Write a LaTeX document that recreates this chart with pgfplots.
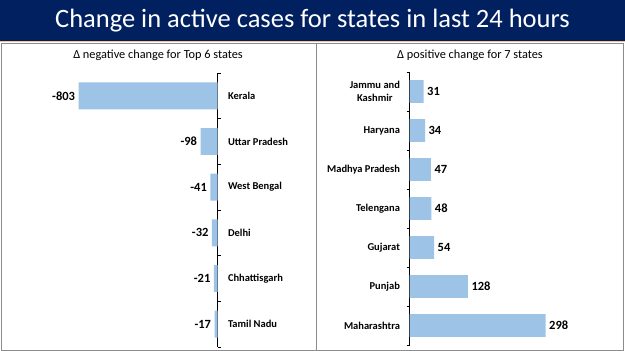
\documentclass[border=0pt]{standalone}
\usepackage{pgfplots}
\pgfplotsset{compat=1.18}
\usepackage{fontspec}
\setmainfont{Carlito}
\definecolor{navy}{HTML}{002060}
\definecolor{barblue}{HTML}{9DC3E6}
\definecolor{framegray}{HTML}{8C8C8C}
\begin{document}
\begin{tikzpicture}
\path[use as bounding box] (0,0) rectangle (625pt,-351pt);
\fill[navy] (0,0) rectangle (625pt,-41pt);
\draw[orange!50, line width=0.8pt] (0,-41.6pt) -- (625pt,-41.6pt);
\node[white,font=\fontsize{26.5}{30}\selectfont] at (312.5pt,-20.5pt) {Change in active cases for states in last 24 hours};
\draw[framegray, line width=1pt] (1pt,-43pt) rectangle (623.5pt,-350pt);
\draw[framegray, line width=1pt] (316.5pt,-43pt) -- (316.5pt,-350pt);
\node[font=\fontsize{12.3}{14}\selectfont] at (158pt,-55pt) {Δ negative change for Top 6 states};
\node[font=\fontsize{12.3}{14}\selectfont] at (470pt,-55pt) {Δ positive change for 7 states};

\begin{axis}[
  at={(217.5pt,-73pt)}, anchor=north east,
  scale only axis, width=155.7pt, height=274pt,
  xbar, xmin=-900, xmax=0,
  ymin=-0.5, ymax=5.5, y dir=reverse,
  bar width=0.59,
  axis x line=none, axis y line*=right,
  axis line style={-, black, line width=0.6pt},
  ytick={0,...,5},
  yticklabels={Kerala,Uttar Pradesh,West Bengal,Delhi,Chhattisgarh,Tamil Nadu},
  major tick length=0pt,
  minor ytick={-0.5,0.5,...,5.5},
  minor tick length=3pt,
  tick align=outside,
  tick style={black, line width=0.6pt},
  yticklabel style={anchor=west, xshift=7pt, font=\bfseries\fontsize{10.5}{13}\selectfont},
  /pgf/number format/assume math mode=true,
  nodes near coords,
  nodes near coords style={anchor=east, font=\bfseries\fontsize{12.5}{14}\selectfont, text=black},
  clip=false,
]
\addplot[fill=barblue, draw=none] coordinates {(-803,0) (-98,1) (-41,2) (-32,3) (-21,4) (-17,5)};
\end{axis}

\begin{axis}[
  at={(409.5pt,-72pt)}, anchor=north west,
  scale only axis, width=182.8pt, height=273pt,
  xbar, xmin=0, xmax=400,
  ymin=-0.5, ymax=6.5, y dir=reverse,
  bar width=0.585,
  axis x line=none, axis y line*=left,
  axis line style={-, black, line width=0.6pt},
  ytick={0,...,6},
  yticklabels={{Jammu and\\Kashmir},Haryana,Madhya Pradesh,Telengana,Gujarat,Punjab,Maharashtra},
  major tick length=0pt,
  minor ytick={-0.5,0.5,...,6.5},
  minor tick length=3pt,
  tick align=outside,
  tick style={black, line width=0.6pt},
  yticklabel style={anchor=east, align=center, xshift=-6pt, font=\bfseries\fontsize{10.5}{13}\selectfont},
  /pgf/number format/assume math mode=true,
  nodes near coords,
  nodes near coords style={anchor=west, font=\bfseries\fontsize{12.5}{14}\selectfont, text=black},
  clip=false,
]
\addplot[fill=barblue, draw=none] coordinates {(31,0) (34,1) (47,2) (48,3) (54,4) (128,5) (298,6)};
\end{axis}
\end{tikzpicture}
\end{document}
